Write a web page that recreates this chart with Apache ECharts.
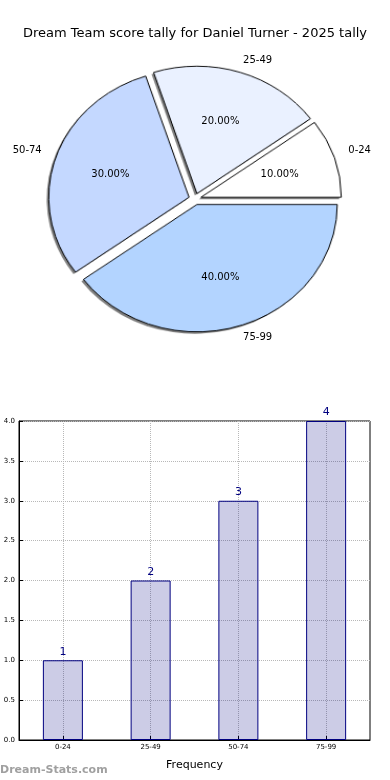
<!DOCTYPE html>
<html><head><meta charset="utf-8">
<script src="https://cdn.jsdelivr.net/npm/echarts@6/dist/echarts.min.js"></script>
<style>
html,body{margin:0;padding:0;background:#fff}
#wrap{position:relative;width:390px;height:780px}
#p{position:absolute;left:0;top:0;width:390px;height:400px;transform-origin:195px 199px;transform:scale(1.047,0.951)}
#c{position:absolute;left:0;top:0;width:390px;height:780px}
</style>
</head><body><div id="wrap"><div id="p"></div><div id="c"></div></div>
<script>
var titleText = 'Dream Team score tally for Daniel Turner - 2025 tally';
var categories = ['0-24', '25-49', '50-74', '75-99'];
var counts = [1, 2, 3, 4];
var pieColors = ['#ffffff', '#eaf1ff', '#c4d8ff', '#b3d4ff'];
var yTicks = [0, 0.5, 1, 1.5, 2, 2.5, 3, 3.5, 4];

var FONT = 'DejaVu Sans';
var R = 134;
var CENTER = [195, 199];
var SHADOW_CENTER = [193, 201];
// slices lying near the horizontal get labels placed a bit further out (elliptic pie)
var horizontalSlice = [true, false, true, false];

function sliceItems(colorFn) {
  return categories.map(function (c, i) {
    return { name: c, value: counts[i], selected: true, itemStyle: { color: colorFn(i) } };
  });
}
function labelItems(showFn, lenFn) {
  return categories.map(function (c, i) {
    var d = { name: c, value: counts[i], selected: true, label: { show: showFn(i) } };
    if (lenFn) d.labelLine = { show: false, length: lenFn(i), length2: 0 };
    return d;
  });
}

var pieBase = {
  type: 'pie', radius: R,
  startAngle: 0, clockwise: false,
  selectedMode: 'multiple', selectedOffset: 6,
  silent: true,
  label: { show: false }, labelLine: { show: false },
  emphasis: { disabled: true }
};

var pie = echarts.init(document.getElementById('p'));
pie.setOption({
  animation: false,
  series: [
    Object.assign({}, pieBase, {
      center: SHADOW_CENTER, z: 1,
      data: sliceItems(function () { return 'rgba(0,0,0,0.5)'; }),
      itemStyle: { borderWidth: 0 },
      select: { itemStyle: { borderWidth: 0 } }
    }),
    Object.assign({}, pieBase, {
      center: CENTER, z: 2,
      data: sliceItems(function (i) { return pieColors[i]; }),
      itemStyle: { borderColor: '#000', borderWidth: 1 },
      select: { itemStyle: { borderColor: '#000', borderWidth: 1 } }
    })
  ]
});

var labelPieBase = {
  type: 'pie', center: CENTER,
  startAngle: 0, clockwise: false,
  selectedMode: 'multiple', selectedOffset: 6,
  silent: true, avoidLabelOverlap: false,
  itemStyle: { color: 'rgba(0,0,0,0)', borderWidth: 0 },
  emphasis: { disabled: true },
  select: { itemStyle: { color: 'rgba(0,0,0,0)', borderWidth: 0 } }
};
function pctFmt(p) { return p.percent.toFixed(2) + '%'; }

var chart = echarts.init(document.getElementById('c'));
chart.setOption({
  animation: false,
  textStyle: { fontFamily: FONT },
  title: {
    text: titleText, left: 'center', top: 22,
    textStyle: { fontFamily: FONT, fontSize: 13, fontWeight: 'normal', color: '#000' }
  },
  graphic: [{
    type: 'text', left: 0, top: 765,
    style: { text: 'Dream-Stats.com', fontFamily: FONT, fontSize: 11, fontWeight: 'bold', fill: '#a0a0a0' }
  }],
  grid: { left: 19, right: 20, top: 421, bottom: 40, show: true, borderColor: '#000', borderWidth: 1, backgroundColor: 'transparent' },
  xAxis: {
    type: 'category', data: categories,
    name: 'Frequency', nameLocation: 'middle', nameGap: 20,
    nameTextStyle: { fontFamily: FONT, fontSize: 11, color: '#000' },
    axisLine: { lineStyle: { color: '#000' } },
    axisTick: { show: true, alignWithLabel: true, inside: true, length: 4, lineStyle: { color: '#000' } },
    axisLabel: { fontFamily: FONT, fontSize: 7, color: '#000', margin: 4 },
    splitLine: { show: true, alignWithLabel: true, lineStyle: { color: '#b8b8b8', type: 'dotted', width: 1 } }
  },
  yAxis: {
    type: 'value', min: 0, max: 4, interval: 0.5,
    axisLine: { show: true, lineStyle: { color: '#000' } },
    axisTick: { show: true, inside: true, length: 4, lineStyle: { color: '#000' } },
    axisLabel: { fontFamily: FONT, fontSize: 7, color: '#000', margin: 4, formatter: function (v) { return v.toFixed(1); } },
    splitLine: { show: true, lineStyle: { color: '#b8b8b8', type: 'dotted', width: 1 } }
  },
  series: [
    Object.assign({}, labelPieBase, {
      radius: R,
      data: labelItems(function () { return true; }, function (i) { return horizontalSlice[i] ? 18 : 6; }),
      label: { position: 'outside', fontFamily: FONT, fontSize: 10, color: '#000', distanceToLabelLine: 3 },
      labelLine: { show: false, length: 6, length2: 0 }
    }),
    Object.assign({}, labelPieBase, {
      radius: 160,
      data: labelItems(function (i) { return horizontalSlice[i]; }),
      label: { position: 'inside', fontFamily: FONT, fontSize: 10, color: '#000', formatter: pctFmt },
      labelLayout: { dy: 3 },
      labelLine: { show: false }
    }),
    Object.assign({}, labelPieBase, {
      radius: 146,
      data: labelItems(function (i) { return !horizontalSlice[i]; }),
      label: { position: 'inside', fontFamily: FONT, fontSize: 10, color: '#000', formatter: pctFmt },
      labelLine: { show: false }
    }),
    {
      type: 'bar', data: counts, barWidth: 40,
      itemStyle: { color: 'rgba(0,0,128,0.2)', borderColor: '#000080', borderWidth: 1 },
      label: { show: true, position: 'top', distance: 3, fontFamily: FONT, fontSize: 11, color: '#000080' },
      emphasis: { disabled: true }
    }
  ]
});
</script></body></html>
